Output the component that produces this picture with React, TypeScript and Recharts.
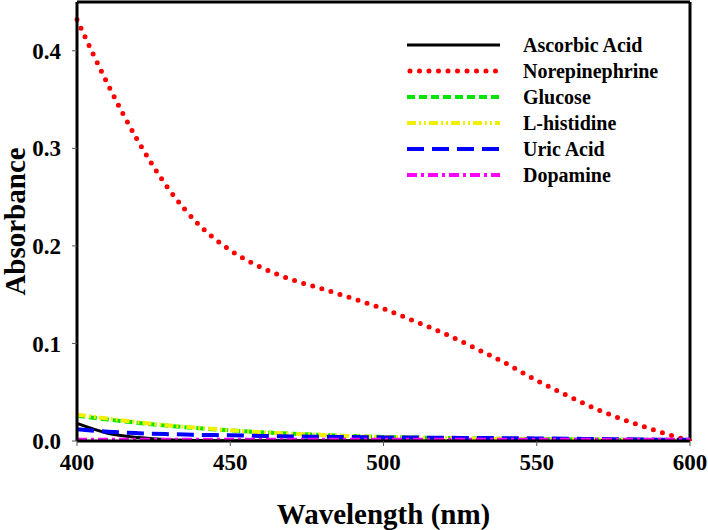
import { Line, LineChart, ReferenceLine, XAxis, YAxis } from "recharts";

const wavelengths = [
  400, 410, 420, 430, 440, 450, 460, 470, 480, 490, 500, 510, 520, 530, 540,
  550, 560, 570, 580, 590, 600,
];
const ascorbicAcid = [
  0.018, 0.008, 0.0035, 0.0012, 0.0005, 0.0003, 0.0002, 0.0002, 0.0002, 0.0002,
  0.0002, 0.0002, 0.0002, 0.0002, 0.0002, 0.0002, 0.0002, 0.0002, 0.0002,
  0.0002, 0.0002,
];
const norepinephrine = [
  0.432, 0.366, 0.307, 0.258, 0.221, 0.1955, 0.178, 0.1655, 0.156, 0.146,
  0.1355, 0.123, 0.11, 0.095, 0.0795, 0.062, 0.0465, 0.032, 0.02, 0.0095, 0.0,
];
const glucose = [
  0.026, 0.022, 0.0185, 0.0155, 0.013, 0.0108, 0.009, 0.0075, 0.0062, 0.005,
  0.0042, 0.0035, 0.003, 0.0026, 0.0022, 0.002, 0.0017, 0.0015, 0.0013, 0.0011,
  0.001,
];
const lHistidine = [
  0.027, 0.023, 0.0192, 0.016, 0.0134, 0.011, 0.009, 0.0075, 0.0062, 0.005,
  0.0042, 0.0035, 0.003, 0.0026, 0.0022, 0.0019, 0.0016, 0.0014, 0.0012, 0.001,
  0.0009,
];
const uricAcid = [
  0.012, 0.0095, 0.008, 0.007, 0.0063, 0.0058, 0.0052, 0.0047, 0.0043, 0.004,
  0.0037, 0.0035, 0.0033, 0.0031, 0.0029, 0.0026, 0.0023, 0.002, 0.0017,
  0.0014, 0.0012,
];
const dopamine = [
  0.0012, 0.0012, 0.0012, 0.0012, 0.0012, 0.0012, 0.0012, 0.0012, 0.0012,
  0.0012, 0.0012, 0.0012, 0.0012, 0.0012, 0.0012, 0.0012, 0.0012, 0.0012,
  0.0012, 0.0012, 0.0012,
];
const xTicks = [400, 450, 500, 550, 600];
const yTicks = [0, 0.1, 0.2, 0.3, 0.4];

const data = wavelengths.map((w, i) => ({
  w,
  ascorbic: ascorbicAcid[i],
  nor: norepinephrine[i],
  glucose: glucose[i],
  histidine: lHistidine[i],
  uric: uricAcid[i],
  dopamine: dopamine[i],
}));

const series = [
  { key: "ascorbic", name: "Ascorbic Acid", color: "#000000", width: 3, dash: undefined as string | undefined, cap: "butt" },
  { key: "nor", name: "Norepinephrine", color: "#ff0000", width: 5, dash: "0 9.5", cap: "round" },
  { key: "glucose", name: "Glucose", color: "#00e600", width: 4, dash: "8 4", cap: "butt" },
  { key: "histidine", name: "L-histidine", color: "#f0f000", width: 4, dash: "9 3 2 3 2 3", cap: "butt" },
  { key: "uric", name: "Uric Acid", color: "#0000ff", width: 4, dash: "17 8", cap: "butt" },
  { key: "dopamine", name: "Dopamine", color: "#ff00ff", width: 4, dash: "10 4 3 4", cap: "butt" },
];

const font = "'Liberation Serif', 'Times New Roman', serif";

function LegendBox() {
  return (
    <div
      style={{
        position: "absolute",
        left: 405,
        top: 32,
        fontFamily: font,
        fontWeight: "bold",
        fontSize: 20,
      }}
    >
      {series.map((s) => (
        <div key={s.key} style={{ display: "flex", alignItems: "center", height: 26 }}>
          <svg width={118} height={10} style={{ display: "block" }}>
            <line
              x1={s.cap === "round" ? 5 : 2}
              y1={5}
              x2={95}
              y2={5}
              stroke={s.color}
              strokeWidth={s.width}
              strokeDasharray={s.dash}
              strokeLinecap={s.cap as "round" | "butt"}
            />
          </svg>
          <span style={{ whiteSpace: "nowrap" }}>{s.name}</span>
        </div>
      ))}
    </div>
  );
}

export default function App() {
  return (
    <div style={{ position: "absolute", left: 0, top: 0, width: 708, height: 530, background: "#fff" }}>
      <LineChart
        width={708}
        height={530}
        data={data}
        margin={{ top: 2, right: 18, left: 0, bottom: 0 }}
      >
        <XAxis
          dataKey="w"
          type="number"
          domain={[400, 600]}
          ticks={xTicks}
          height={89}
          axisLine={{ stroke: "#000", strokeWidth: 3 }}
          tickLine={{ stroke: "#555", strokeWidth: 1 }}
          tickSize={5}
          tickMargin={8}
          tick={{ fill: "#000", fontSize: 23, fontWeight: "bold", fontFamily: font }}
          label={{
            value: "Wavelength (nm)",
            position: "insideBottom",
            offset: 6,
            fill: "#000",
            fontSize: 29,
            fontWeight: "bold",
            fontFamily: font,
          }}
        />
        <YAxis
          type="number"
          domain={[0, 0.45]}
          ticks={yTicks}
          width={77}
          allowDataOverflow
          axisLine={{ stroke: "#000", strokeWidth: 3 }}
          tickLine={{ stroke: "#555", strokeWidth: 1 }}
          tickSize={5}
          tickMargin={11}
          tickFormatter={(v: number) => v.toFixed(1)}
          tick={{ fill: "#000", fontSize: 23, fontWeight: "bold", fontFamily: font }}
          label={{
            value: "Absorbance",
            angle: -90,
            position: "insideLeft",
            offset: 15,
            style: { textAnchor: "middle" },
            fill: "#000",
            fontSize: 29,
            fontWeight: "bold",
            fontFamily: font,
          }}
        />
        <ReferenceLine y={0.45} stroke="#000" strokeWidth={3} />
        <ReferenceLine x={600} stroke="#000" strokeWidth={3} />
        {series.map((s) => (
          <Line
            key={s.key}
            type="monotone"
            dataKey={s.key}
            name={s.name}
            stroke={s.color}
            strokeWidth={s.width}
            strokeDasharray={s.dash}
            strokeLinecap={s.cap as "round" | "butt"}
            dot={false}
            activeDot={false}
            isAnimationActive={false}
          />
        ))}
      </LineChart>
      <LegendBox />
    </div>
  );
}
